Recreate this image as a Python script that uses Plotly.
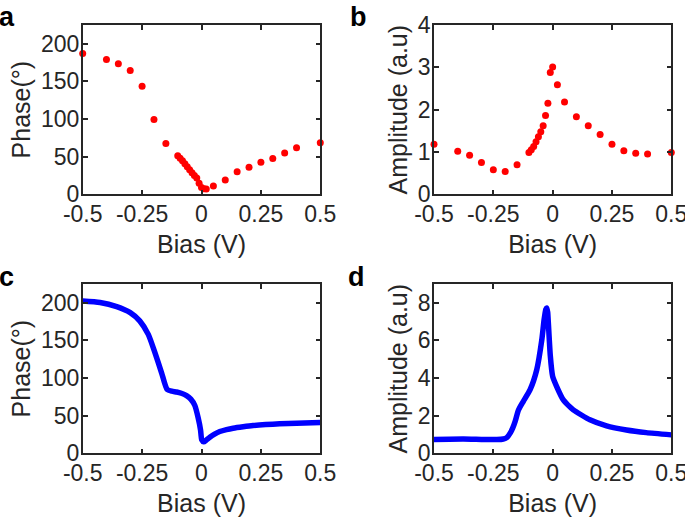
import plotly.graph_objects as go

# Panel a: measured phase (deg) vs bias (V)
a_bias = [-0.5, -0.4, -0.35, -0.3, -0.25, -0.2, -0.15, -0.1, -0.09, -0.08, -0.07, -0.06,
          -0.05, -0.04, -0.03, -0.02, -0.01, 0.0, 0.01, 0.02, 0.05, 0.1, 0.15, 0.2, 0.25,
          0.3, 0.35, 0.4, 0.5]
a_phase = [187, 179, 173.5, 164.5, 143.5, 99.5, 67.5, 51.3, 48, 44.5, 40.5, 36.5,
           32.5, 28.5, 25, 21.5, 14.7, 9, 7.4, 7, 11, 19, 30, 36, 42.6,
           47.5, 55, 62, 68.6]

# Panel b: measured amplitude (a.u) vs bias (V)
b_bias = [-0.5, -0.4, -0.35, -0.3, -0.25, -0.2, -0.15, -0.1, -0.09, -0.08, -0.07, -0.06,
          -0.05, -0.04, -0.03, -0.02, -0.01, 0.0, 0.02, 0.05, 0.1, 0.15, 0.2, 0.25,
          0.3, 0.35, 0.4, 0.5]
b_amp = [1.18, 1.02, 0.92, 0.75, 0.58, 0.54, 0.70, 0.99, 1.05, 1.13, 1.24, 1.36,
         1.48, 1.62, 1.86, 2.15, 2.88, 3.01, 2.59, 2.18, 1.83, 1.62, 1.41, 1.18,
         1.03, 0.97, 0.95, 0.99]

# Panel c: simulated phase (deg) vs bias (V)
c_bias = [-0.5, -0.427, -0.357, -0.30, -0.26, -0.224, -0.196, -0.168, -0.145, -0.125,
          -0.105, -0.085, -0.063, -0.045, -0.028, -0.014, -0.004, 0.001, 0.0097, 0.02,
          0.035, 0.055, 0.077, 0.105, 0.133, 0.175, 0.217, 0.27, 0.329, 0.4, 0.5]
c_phase = [202.5, 200.5, 195, 187, 176, 158, 133.7, 107, 85, 82.5,
           81.5, 79.8, 76.6, 72, 63.5, 47, 31, 18, 15.2, 17.5,
           21.4, 25.5, 28.9, 31.5, 33.4, 35.3, 36.9, 38.2, 39.2, 40, 40.8]

# Panel d: simulated amplitude (a.u) vs bias (V)
d_bias = [-0.5, -0.376, -0.3, -0.235, -0.208, -0.192, -0.179, -0.168, -0.158, -0.144,
          -0.124, -0.095, -0.067, -0.046, -0.036, -0.029, -0.025, -0.021, -0.018, -0.01,
          0.0, 0.017, 0.045, 0.087, 0.157, 0.227, 0.311, 0.395, 0.5]
d_amp = [0.74, 0.76, 0.74, 0.73, 0.76, 0.85, 1.07, 1.35, 1.7, 2.3,
         2.75, 3.38, 4.44, 6.0, 7.1, 7.65, 7.73, 7.5, 6.9, 5.2,
         4.09, 3.55, 2.84, 2.31, 1.78, 1.46, 1.24, 1.1, 0.98]

x_ticks = [-0.5, -0.25, 0, 0.25, 0.5]
x_tick_labels = ["-0.5", "-0.25", "0", "0.25", "0.5"]

FONT = "Liberation Sans, Arial, Helvetica, sans-serif"
INK = "#262626"
W, H = 685, 521

fig = go.Figure()
fig.add_trace(go.Scatter(x=a_bias, y=a_phase, mode="markers", xaxis="x", yaxis="y",
                         marker=dict(color="#ff0000", size=7), cliponaxis=False))
fig.add_trace(go.Scatter(x=b_bias, y=b_amp, mode="markers", xaxis="x2", yaxis="y2",
                         marker=dict(color="#ff0000", size=7), cliponaxis=False))
fig.add_trace(go.Scatter(x=c_bias, y=c_phase, mode="lines", xaxis="x3", yaxis="y3",
                         line=dict(color="#0000ff", width=5.5, shape="spline", smoothing=0.6),
                         cliponaxis=False))
fig.add_trace(go.Scatter(x=d_bias, y=d_amp, mode="lines", xaxis="x4", yaxis="y4",
                         line=dict(color="#0000ff", width=5.5, shape="spline", smoothing=0.5),
                         cliponaxis=False))

def px_dom(a, b, total):
    return [a / total, b / total]

def py_dom(top, bottom):
    return [1 - bottom / H, 1 - top / H]

common = dict(showline=True, linecolor=INK, linewidth=1.6, mirror="ticks", ticks="inside",
              ticklen=5, tickwidth=1.6, tickcolor=INK, showgrid=False, zeroline=False,
              automargin=False, ticklabeloverflow="allow",
              tickfont=dict(family=FONT, size=23, color=INK))

def xaxis(dom, anchor):
    return dict(common, domain=dom, anchor=anchor, range=[-0.5, 0.5], tickvals=x_ticks,
                ticktext=x_tick_labels, ticklabelstandoff=-2,
                title=dict(text="Bias (V)", font=dict(family=FONT, size=25, color=INK), standoff=10))

def yaxis(dom, anchor, rng, ticks, title):
    return dict(common, domain=dom, anchor=anchor, range=rng, tickvals=ticks, ticklabelstandoff=-3,
                title=dict(text=title, font=dict(family=FONT, size=25, color=INK), standoff=3))

top_row = py_dom(25, 194.3)
bot_row = py_dom(284, 453.3)
left_col = px_dom(82.7, 320.3, W)
right_col = px_dom(434.0, 671.3, W)

fig.update_layout(
    width=W, height=H, margin=dict(l=0, r=0, t=0, b=0, autoexpand=False),
    paper_bgcolor="white", plot_bgcolor="white", showlegend=False,
    xaxis=xaxis(left_col, "y"),
    yaxis=yaxis(top_row, "x", [0, 225], [0, 50, 100, 150, 200], "Phase(°)"),
    xaxis2=xaxis(right_col, "y2"),
    yaxis2=yaxis(top_row, "x2", [0, 4], [0, 1, 2, 3, 4], "Amplitude (a.u)"),
    xaxis3=xaxis(left_col, "y3"),
    yaxis3=yaxis(bot_row, "x3", [0, 225], [0, 50, 100, 150, 200], "Phase(°)"),
    xaxis4=xaxis(right_col, "y4"),
    yaxis4=yaxis(bot_row, "x4", [0, 9], [0, 2, 4, 6, 8], "Amplitude (a.u)"),
)

for label, x, y in [("a", -3, 0), ("b", 348, 0), ("c", -3, 260), ("d", 346, 260)]:
    fig.add_annotation(text="<b>%s</b>" % label, xref="paper", yref="paper",
                       x=x / W, y=1 - y / H, xanchor="left", yanchor="top", showarrow=False,
                       font=dict(family=FONT, size=27, color="black"))

fig.write_html("out.html", config={"displayModeBar": False},
               post_script="document.body.style.margin='0px';document.body.style.overflow='hidden';")
